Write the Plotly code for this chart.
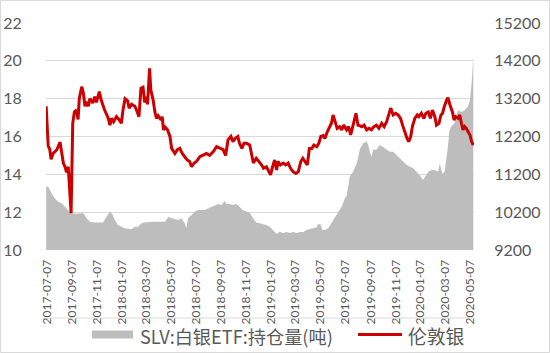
import plotly.graph_objects as go

# ---------------- data ----------------
silver_dates = [
    "2017-07-05", "2017-07-07", "2017-07-10", "2017-07-14", "2017-07-17", "2017-07-22", "2017-07-31",
    "2017-08-08", "2017-08-12", "2017-08-16", "2017-08-20", "2017-08-24", "2017-08-28", "2017-08-31",
    "2017-09-04", "2017-09-08", "2017-09-12", "2017-09-17", "2017-09-21", "2017-09-24", "2017-09-30",
    "2017-10-04", "2017-10-08", "2017-10-12", "2017-10-16", "2017-10-20", "2017-10-27", "2017-11-01",
    "2017-11-05", "2017-11-12", "2017-11-17", "2017-11-25", "2017-12-04", "2017-12-08", "2017-12-12",
    "2017-12-17", "2017-12-24", "2017-12-30", "2018-01-05", "2018-01-09", "2018-01-14", "2018-01-20",
    "2018-01-24", "2018-01-30", "2018-02-07", "2018-02-11", "2018-02-17", "2018-02-22", "2018-02-27",
    "2018-03-03", "2018-03-08", "2018-03-10", "2018-03-15", "2018-03-18", "2018-03-24", "2018-03-28",
    "2018-04-01", "2018-04-05", "2018-04-12", "2018-04-15", "2018-04-18", "2018-04-22", "2018-04-28",
    "2018-05-04", "2018-05-08", "2018-05-16", "2018-05-22", "2018-05-28", "2018-06-03", "2018-06-09",
    "2018-06-15", "2018-06-21", "2018-06-26", "2018-07-02", "2018-07-08", "2018-07-16", "2018-07-24",
    "2018-08-01", "2018-08-09", "2018-08-18", "2018-08-26", "2018-09-03", "2018-09-11", "2018-09-17",
    "2018-09-23", "2018-09-30", "2018-10-05", "2018-10-11", "2018-10-17", "2018-10-21", "2018-10-27",
    "2018-11-01", "2018-11-07", "2018-11-15", "2018-11-20", "2018-11-24", "2018-12-01", "2018-12-08",
    "2018-12-14", "2018-12-19", "2018-12-26", "2019-01-01", "2019-01-05", "2019-01-10", "2019-01-15",
    "2019-01-20", "2019-01-23", "2019-01-29", "2019-02-05", "2019-02-11", "2019-02-17", "2019-02-23",
    "2019-03-01", "2019-03-08", "2019-03-14", "2019-03-20", "2019-03-25", "2019-03-30", "2019-04-05",
    "2019-04-10", "2019-04-16", "2019-04-21", "2019-04-28", "2019-05-03", "2019-05-08", "2019-05-14",
    "2019-05-18", "2019-05-24", "2019-05-30", "2019-06-03", "2019-06-07", "2019-06-11", "2019-06-17",
    "2019-06-23", "2019-06-28", "2019-07-03", "2019-07-10", "2019-07-15", "2019-07-20", "2019-07-26",
    "2019-08-02", "2019-08-07", "2019-08-09", "2019-08-16", "2019-08-22", "2019-08-28", "2019-09-03",
    "2019-09-09", "2019-09-15", "2019-09-21", "2019-09-27", "2019-10-04", "2019-10-10", "2019-10-16",
    "2019-10-20", "2019-10-26", "2019-11-01", "2019-11-07", "2019-11-13", "2019-11-19", "2019-11-24",
    "2019-11-30", "2019-12-05", "2019-12-09", "2019-12-14", "2019-12-18", "2019-12-24", "2019-12-30",
    "2020-01-03", "2020-01-09", "2020-01-15", "2020-01-20", "2020-01-26", "2020-01-31", "2020-02-05",
    "2020-02-11", "2020-02-15", "2020-02-21", "2020-02-26", "2020-03-01", "2020-03-05", "2020-03-11",
    "2020-03-14", "2020-03-20", "2020-03-25", "2020-03-29", "2020-04-02", "2020-04-08", "2020-04-12",
    "2020-04-16", "2020-04-20", "2020-04-24", "2020-04-28", "2020-05-02", "2020-05-07", "2020-05-11",
    "2020-05-15",
]
silver_price = [
    17.6, 16.9, 15.5, 15.3, 14.8, 15.1, 15.3,
    15.7, 15.1, 14.6, 14.4, 14.1, 14.4, 13.2,
    11.95, 16.7, 17.3, 17.4, 16.9, 18.0, 18.63,
    18.3, 17.6, 17.84, 17.6, 18.0, 17.77, 18.1,
    17.8, 18.37, 17.9, 17.4, 16.96, 16.6, 16.96,
    16.78, 17.05, 16.9, 16.7, 17.4, 18.0, 17.9,
    17.5, 17.7, 17.6, 17.4, 17.05, 18.55, 18.6,
    17.8, 18.1, 17.7, 19.6, 18.46, 17.9, 17.3,
    16.96, 17.1, 16.87, 17.05, 16.35, 16.5, 16.35,
    15.99, 15.37, 15.1, 15.3, 15.37, 15.1, 14.93,
    14.76, 14.68, 14.4, 14.6, 14.68, 14.93, 15.0,
    15.1, 15.0, 15.2, 15.46, 15.37, 15.3, 15.0,
    15.82, 16.0, 15.73, 15.9, 16.0, 15.64, 15.37,
    15.64, 15.64, 15.55, 15.1, 14.6, 14.85, 14.67,
    14.5, 14.32, 14.4, 14.14, 13.97, 14.4, 14.76,
    14.23, 14.68, 14.5, 14.6, 14.5, 14.6, 14.32,
    14.14, 14.05, 14.14, 14.68, 14.85, 14.68, 14.5,
    15.37, 15.37, 15.55, 15.46, 15.64, 16.0, 16.05,
    15.9, 16.26, 16.52, 16.7, 17.14, 16.87, 16.43,
    16.52, 16.35, 16.6, 16.35, 16.52, 16.08, 16.6,
    17.23, 16.6, 16.6, 16.52, 16.6, 16.35, 16.43,
    16.35, 16.52, 16.6, 16.43, 16.7, 16.52, 16.78,
    17.05, 17.5, 17.14, 17.23, 17.14, 16.96, 16.6,
    16.17, 15.9, 15.73, 16.0, 16.52, 16.96, 17.14,
    17.05, 17.23, 16.96, 17.23, 17.3, 16.96, 17.4,
    17.05, 16.6, 16.7, 17.14, 17.23, 17.58, 17.93,
    18.05, 17.6, 17.3, 16.87, 17.05, 16.96, 17.14,
    16.7, 16.35, 16.52, 16.43, 16.26, 16.08, 15.73,
    15.55,
]

slv_dates = [
    "2017-07-05", "2017-07-10", "2017-07-18", "2017-07-26", "2017-08-03", "2017-08-12", "2017-08-20",
    "2017-08-28", "2017-09-04", "2017-09-17", "2017-09-25", "2017-10-04", "2017-10-12", "2017-10-20",
    "2017-10-28", "2017-11-21", "2017-11-30", "2017-12-08", "2017-12-15", "2017-12-20", "2017-12-28",
    "2018-01-05", "2018-01-13", "2018-01-30", "2018-02-07", "2018-02-15", "2018-02-23", "2018-03-03",
    "2018-03-20", "2018-04-22", "2018-04-30", "2018-05-08", "2018-05-24", "2018-06-01", "2018-06-09",
    "2018-06-13", "2018-06-17", "2018-06-26", "2018-07-04", "2018-07-12", "2018-07-28", "2018-08-05",
    "2018-08-14", "2018-08-22", "2018-08-30", "2018-09-07", "2018-09-15", "2018-09-19", "2018-09-27",
    "2018-10-05", "2018-10-13", "2018-10-21", "2018-10-29", "2018-11-07", "2018-11-15", "2018-11-23",
    "2018-12-01", "2018-12-09", "2018-12-17", "2018-12-26", "2019-01-03", "2019-01-11", "2019-01-20",
    "2019-01-28", "2019-02-05", "2019-02-13", "2019-02-21", "2019-03-01", "2019-03-10", "2019-03-18",
    "2019-03-26", "2019-04-03", "2019-04-11", "2019-04-19", "2019-04-28", "2019-05-01", "2019-05-07",
    "2019-05-12", "2019-05-18", "2019-05-26", "2019-06-03", "2019-06-11", "2019-06-19", "2019-06-28",
    "2019-07-06", "2019-07-10", "2019-07-14", "2019-07-18", "2019-07-26", "2019-08-04", "2019-08-12",
    "2019-08-20", "2019-08-28", "2019-09-01", "2019-09-05", "2019-09-09", "2019-09-13", "2019-09-21",
    "2019-09-29", "2019-10-07", "2019-10-16", "2019-10-24", "2019-11-01", "2019-11-09", "2019-11-17",
    "2019-11-25", "2019-12-04", "2019-12-12", "2019-12-20", "2019-12-28", "2020-01-05", "2020-01-13",
    "2020-01-17", "2020-01-26", "2020-02-03", "2020-02-11", "2020-02-19", "2020-02-23", "2020-02-29",
    "2020-03-06", "2020-03-13", "2020-03-18", "2020-03-22", "2020-03-30", "2020-04-08", "2020-04-16",
    "2020-04-24", "2020-05-02", "2020-05-07", "2020-05-11", "2020-05-15",
]
slv_holdings = [
    10875, 10875, 10700, 10565, 10475, 10435, 10345,
    10260, 10170, 10160, 10170, 10180, 10040, 9950,
    9925, 9925, 10080, 10215, 10125, 9995, 9860,
    9815, 9775, 9750, 9815, 9815, 9905, 9925,
    9950, 9950, 10080, 10040, 9995, 10040, 9905,
    9775, 10040, 10125, 10215, 10260, 10260, 10300,
    10345, 10365, 10415, 10390, 10495, 10415, 10415,
    10390, 10415, 10345, 10260, 10215, 10185, 10040,
    9925, 9905, 9890, 9860, 9815, 9730, 9625,
    9685, 9640, 9675, 9650, 9675, 9650, 9675,
    9675, 9730, 9750, 9775, 9800, 9880, 9880,
    9730, 9730, 9775, 9905, 10040, 10185, 10345,
    10565, 10625, 10875, 11150, 11270, 11490, 11885,
    12020, 12065, 11975, 11800, 11665, 11850, 11850,
    11975, 11930, 11850, 11800, 11800, 11710, 11625,
    11540, 11450, 11400, 11360, 11270, 11185, 11050,
    11125, 11270, 11315, 11315, 11270, 11490, 11225,
    11270, 11850, 12375, 12460, 12550, 12900, 12850,
    12900, 12990, 13165, 13600, 14300,
]

tick_dates = [
    "2017-07-07", "2017-09-07", "2017-11-07", "2018-01-07", "2018-03-07", "2018-05-07",
    "2018-07-07", "2018-09-07", "2018-11-07", "2019-01-07", "2019-03-07", "2019-05-07",
    "2019-07-07", "2019-09-07", "2019-11-07", "2020-01-07", "2020-03-07", "2020-05-07",
]
tick_labels = list(tick_dates)

left_ticks = [10, 12, 14, 16, 18, 20, 22]
right_ticks = [9200, 10200, 11200, 12200, 13200, 14200, 15200]

name_slv = "SLV:白银ETF:持仓量(吨)"
name_silver = "伦敦银"

# ---------------- figure ----------------
TXT = "#595959"
FONT = "Lato, 'Noto Sans CJK SC', sans-serif"
LEG_FONT = "'Noto Sans CJK SC', Lato, sans-serif"
GRAY = "#BDBDBD"
RED = "#CC0000"

# plot-area geometry in pixels (used to place the legend keys in paper coords)
PL, PR, PT, PB = 46, 474, 23, 250
PW, PH = PR - PL, PB - PT


def px(xp):
    return (xp - PL) / PW


def py(yp):
    return (PB - yp) / PH


fig = go.Figure()
fig.add_trace(go.Scatter(
    x=slv_dates, y=slv_holdings, name=name_slv, mode="lines",
    line=dict(width=0, color=GRAY),
    fill="tozeroy", fillcolor=GRAY, yaxis="y",
))
fig.add_trace(go.Scatter(
    x=silver_dates, y=silver_price, name=name_silver, mode="lines",
    line=dict(width=3, color=RED), yaxis="y2",
))

leg_y = py(334.5)
fig.update_layout(
    width=550, height=353,
    margin=dict(l=PL, r=550 - PR, t=PT, b=353 - PB, autoexpand=False),
    paper_bgcolor="white", plot_bgcolor="white",
    font=dict(family=FONT, color=TXT, size=16),
    showlegend=False,
    xaxis=dict(
        type="date", automargin=False,
        range=["2017-07-04 14:00", "2020-05-16 19:00"],
        tickmode="array", tickvals=tick_dates, ticktext=tick_labels,
        tickangle=-90, tickfont=dict(size=12, color=TXT, family=FONT),
        showgrid=False, zeroline=False, showline=False,
        ticks="outside", ticklen=4, tickcolor="rgba(0,0,0,0)",
    ),
    yaxis=dict(
        side="right", range=[9200, 15200], automargin=False,
        tickmode="array", tickvals=right_ticks,
        ticktext=[str(v) for v in right_ticks],
        tickfont=dict(size=16, color=TXT),
        showgrid=True, gridcolor="#D9D9D9", gridwidth=1,
        zeroline=False, showline=False,
        ticks="outside", ticklen=16, tickcolor="rgba(0,0,0,0)",
    ),
    yaxis2=dict(
        overlaying="y", side="left", range=[10, 22], automargin=False,
        tickmode="array", tickvals=left_ticks,
        ticktext=[str(v) for v in left_ticks],
        tickfont=dict(size=16, color=TXT),
        showgrid=False, zeroline=False, showline=False,
        ticks="outside", ticklen=20, tickcolor="rgba(0,0,0,0)",
    ),
    shapes=[
        # separator under the date labels
        dict(type="line", xref="paper", yref="paper", x0=0, x1=1.0,
             y0=py(318), y1=py(318), line=dict(color="#D9D9D9", width=1)),
        # chart border
        dict(type="rect", xref="paper", yref="paper",
             x0=px(0.5), x1=px(549.5), y0=py(352.5), y1=py(0.5),
             line=dict(color="#D9D9D9", width=1), fillcolor="rgba(0,0,0,0)"),
        # legend keys
        dict(type="rect", xref="paper", yref="paper",
             x0=px(92), x1=px(133), y0=py(338.5), y1=py(330.5),
             line=dict(width=0), fillcolor=GRAY),
        dict(type="line", xref="paper", yref="paper",
             x0=px(358), x1=px(402), y0=leg_y, y1=leg_y,
             line=dict(color=RED, width=3)),
    ],
    annotations=[
        dict(text=name_slv, xref="paper", yref="paper", x=px(138), y=py(335.5),
             xanchor="left", yanchor="middle", showarrow=False,
             font=dict(size=18.2, family=LEG_FONT, color=TXT)),
        dict(text=name_silver, xref="paper", yref="paper", x=px(406), y=py(335.5),
             xanchor="left", yanchor="middle", showarrow=False,
             font=dict(size=18.8, family=LEG_FONT, color=TXT)),
    ],
)

fig.write_html("out.html")
